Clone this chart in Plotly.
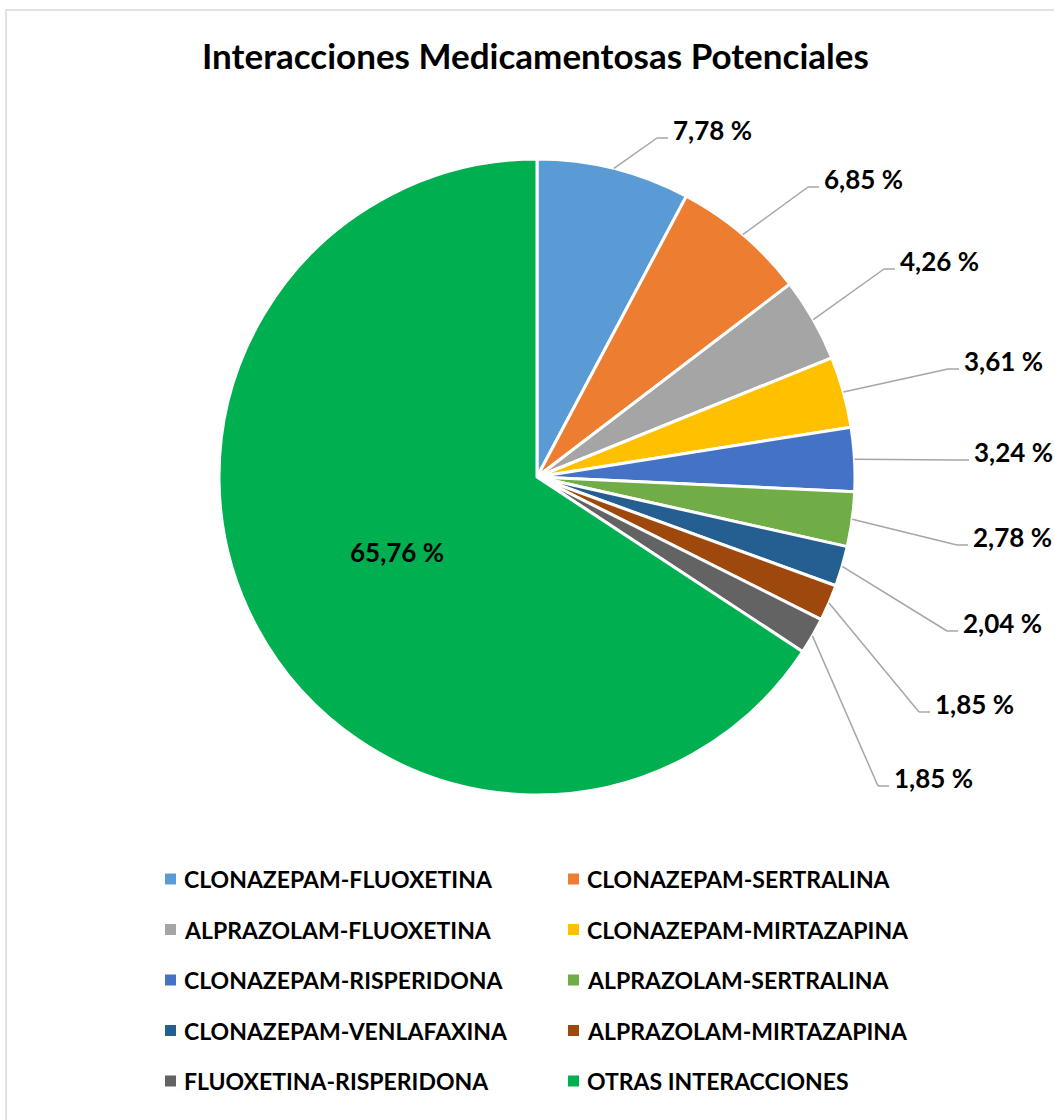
import math
import plotly.graph_objects as go

# --- data -----------------------------------------------------------------
labels = [
    "CLONAZEPAM-FLUOXETINA",
    "CLONAZEPAM-SERTRALINA",
    "ALPRAZOLAM-FLUOXETINA",
    "CLONAZEPAM-MIRTAZAPINA",
    "CLONAZEPAM-RISPERIDONA",
    "ALPRAZOLAM-SERTRALINA",
    "CLONAZEPAM-VENLAFAXINA",
    "ALPRAZOLAM-MIRTAZAPINA",
    "FLUOXETINA-RISPERIDONA",
    "OTRAS INTERACCIONES",
]
values = [7.78, 6.85, 4.26, 3.61, 3.24, 2.78, 2.04, 1.85, 1.85, 65.76]
colors = [
    "#5B9BD5", "#ED7D31", "#A5A5A5", "#FFC000", "#4472C4",
    "#70AD47", "#255E91", "#9E480E", "#636363", "#00B050",
]
title = "Interacciones Medicamentosas Potenciales"

# --- layout (pixels) ------------------------------------------------------
W, H = 1054, 1120
CX, CY, R = 537, 477, 318
FONT = "Lato"
# left edge / vertical centre of each outside value label (last slice is labelled inside)
label_pos = [
    (672, 130), (823, 179), (899, 261), (963, 361), (973, 452),
    (972, 537), (962, 623), (934, 704), (893, 778),
]
legend_cols = [165, 568]
legend_row0, legend_dy = 879, 50.5


def px(x):
    return x / W


def py(y):
    return 1 - y / H


def fmt(v):
    return f"{v:.2f}".replace(".", ",") + " %"


fig = go.Figure(
    go.Pie(
        labels=labels,
        values=values,
        marker=dict(colors=colors, line=dict(color="white", width=3)),
        sort=False,
        direction="clockwise",
        rotation=0,
        textinfo="none",
        hoverinfo="label+percent",
        showlegend=False,
        domain=dict(x=[px(CX - R), px(CX + R)], y=[py(CY + R), py(CY - R)]),
    )
)

shapes = []
annotations = []

# slice mid-angles (degrees clockwise from 12 o'clock)
total = sum(values)
mids = []
acc = 0.0
for v in values:
    mids.append((acc + v / 2) / total * 360)
    acc += v

line_style = dict(color="#A6A6A6", width=1.5)
for i, (lx, ly) in enumerate(label_pos):
    a = math.radians(mids[i])
    sx, sy = CX + R * math.sin(a), CY - R * math.cos(a)
    ex, ey = lx - 15, ly + 8
    hx = lx - 4
    shapes.append(dict(type="line", xref="paper", yref="paper",
                       x0=px(sx), y0=py(sy), x1=px(ex), y1=py(ey), line=line_style))
    shapes.append(dict(type="line", xref="paper", yref="paper",
                       x0=px(ex), y0=py(ey), x1=px(hx), y1=py(ey), line=line_style))
    annotations.append(dict(
        x=px(lx - 1), y=py(ly), xref="paper", yref="paper", xanchor="left", yanchor="middle",
        text=f"<b>{fmt(values[i])}</b>", showarrow=False,
        font=dict(family=FONT, size=26, color="black"),
    ))

# inside label of the large slice, half-way along its mid-angle
a = math.radians(mids[-1])
annotations.append(dict(
    x=px(CX + 0.5 * R * math.sin(a)), y=py(CY - 0.5 * R * math.cos(a)),
    xref="paper", yref="paper", xanchor="center", yanchor="middle",
    text=f"<b>{fmt(values[-1])}</b>", showarrow=False,
    font=dict(family=FONT, size=26, color="black"),
))

# title
annotations.append(dict(
    x=px(535), y=py(55), xref="paper", yref="paper", xanchor="center", yanchor="middle",
    text=f"<b>{title}</b>", showarrow=False,
    font=dict(family=FONT, size=35, color="black"),
))

# two-column legend
for i, (lab, col) in enumerate(zip(labels, colors)):
    cx = legend_cols[i % 2]
    cy = legend_row0 + (i // 2) * legend_dy
    shapes.append(dict(type="rect", xref="paper", yref="paper",
                       x0=px(cx), x1=px(cx + 11), y0=py(cy - 5.5), y1=py(cy + 5.5),
                       fillcolor=col, line=dict(width=0)))
    annotations.append(dict(
        x=px(cx + 17), y=py(cy), xref="paper", yref="paper", xanchor="left", yanchor="middle",
        text=f"<b>{lab}</b>", showarrow=False,
        font=dict(family=FONT, size=23, color="black"),
    ))

# chart-area frame
shapes.append(dict(type="rect", xref="paper", yref="paper",
                   x0=px(6), y0=py(10), x1=px(W + 20), y1=py(H + 20),
                   line=dict(color="#D9D9D9", width=1.5), fillcolor="rgba(0,0,0,0)"))

fig.update_layout(
    width=W, height=H,
    margin=dict(l=0, r=0, t=0, b=0),
    paper_bgcolor="white",
    plot_bgcolor="white",
    shapes=shapes,
    annotations=annotations,
    font=dict(family=FONT),
)

fig.write_html("out.html")
